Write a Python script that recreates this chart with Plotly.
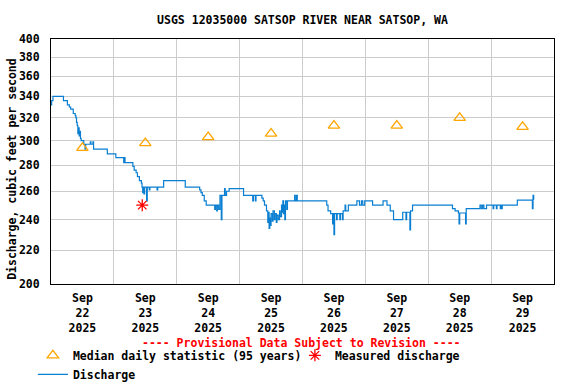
import math
import pandas as pd
import plotly.graph_objects as go

# ---------------- data ----------------
start = "2025-09-22 00:00"
# hours since start, discharge (cfs) - stepped 15-minute record
q_hours = [0.0, 0.25, 0.75, 4.75, 6.25, 7.0, 7.5, 8.5, 9.25, 9.5, 9.75,
           10.0, 10.25, 10.5, 10.75, 11.0, 11.25, 11.5, 12.5, 13.0, 13.25,
           15.0, 15.25, 16.0, 16.25, 21.5, 24.75, 27.75, 28.0, 28.25,
           31.25, 31.75, 32.5, 33.0, 33.75, 34.5, 34.75, 35.0, 35.25, 35.5,
           35.75, 36.5, 36.75, 37.5, 37.75, 40.5, 40.75, 43.0, 51.25,
           56.75, 57.25, 57.75, 58.5, 59.25, 62.5, 62.75, 63.25, 63.5, 64.0,
           64.5, 65.0, 65.25, 66.25, 66.5, 67.0, 68.0, 73.5, 77.0, 77.25,
           78.0, 78.25, 80.5, 81.0, 81.5, 82.25, 82.75, 83.0, 83.25, 83.5,
           83.75, 84.0, 84.5, 84.75, 85.25, 85.5, 86.0, 86.25, 86.75, 87.25,
           87.5, 88.0, 88.25, 88.5, 88.75, 89.0, 89.25, 89.5, 90.0, 90.25,
           91.0, 93.0, 93.25, 93.75, 94.0, 105.25, 105.75, 106.75, 107.5,
           107.75, 108.0, 108.25, 109.0, 109.25, 110.25, 110.5, 111.25,
           111.5, 112.25, 112.5, 113.5, 116.75, 117.75, 118.5, 119.0, 119.75,
           122.75, 126.75, 128.25, 129.5, 130.75, 134.25, 135.5, 135.75,
           137.0, 137.25, 138.0, 138.75, 153.25, 154.25, 155.5, 155.75, 156.0,
           158.25, 158.5, 163.75, 164.25, 164.75, 165.25, 166.25, 168.75,
           169.0, 170.0, 170.25, 171.5, 171.75, 172.0, 172.25, 178.0, 183.75,
           184.0, 184.25, 184.4]
q_cfs = [332, 336, 340, 336, 332, 330, 328, 324, 322, 320, 316,
         313, 306, 311, 304, 308, 302, 300, 297, 293, 297,
         299, 297, 299, 293, 289, 286, 282, 286, 282,
         279, 276, 274, 271, 268, 266, 263, 259, 263, 258,
         263, 253, 263, 261, 263, 261, 263, 268, 263,
         261, 259, 257, 253, 250, 247, 250, 246, 250, 247,
         257, 240, 257, 262, 257, 260, 262, 257, 253, 257,
         253, 257, 255, 253, 250, 246, 238, 245, 234, 241,
         236, 244, 239, 246, 240, 244, 238, 243, 240, 246,
         242, 250, 245, 253, 244, 250, 240, 253, 247, 253,
         253, 257, 253, 257, 253, 250, 246, 244, 237,
         244, 230, 244, 240, 244, 240, 244, 240,
         246, 250, 246, 250, 253, 250, 253, 250, 253,
         250, 253, 250, 246, 240, 245, 240, 245,
         233, 246, 250, 250, 247.5, 246, 244.5, 237, 244.5,
         237, 247.5, 250, 247.5, 250, 247.5, 250, 247.5,
         250, 247.5, 250, 247.5, 250, 247.5, 250, 253.5, 247.5,
         257, 254, 254]

median_dates = ["2025-09-22 12:00", "2025-09-23 12:00", "2025-09-24 12:00",
                "2025-09-25 12:00", "2025-09-26 12:00", "2025-09-27 12:00",
                "2025-09-28 12:00", "2025-09-29 12:00"]
median_cfs = [294, 298, 303, 306, 313, 313, 320, 312]

measured_dates = ["2025-09-23 10:50"]
measured_cfs = [250]

x_tick_vals = median_dates
x_tick_text = ["Sep<br>22<br>2025", "Sep<br>23<br>2025", "Sep<br>24<br>2025",
               "Sep<br>25<br>2025", "Sep<br>26<br>2025", "Sep<br>27<br>2025",
               "Sep<br>28<br>2025", "Sep<br>29<br>2025"]
day_lines = ["2025-09-23", "2025-09-24", "2025-09-25", "2025-09-26",
             "2025-09-27", "2025-09-28", "2025-09-29"]
y_tick_vals = [200, 220, 240, 260, 280, 300, 320, 340, 360, 380, 400]
x_range = ["2025-09-22 00:00", "2025-09-30 00:00"]
y_range = [200, 400]

# ---------------- figure ----------------
times = pd.Timestamp(start) + pd.to_timedelta(q_hours, unit="h")

FONT = dict(family="DejaVu Sans Mono", size=11.5, color="black", weight="bold")

fig = go.Figure()
fig.add_trace(go.Scatter(
    x=times, y=q_cfs, mode="lines", line_shape="hv",
    line=dict(color="#0a7fd2", width=1.2), name="Discharge", legendrank=3))
fig.add_trace(go.Scatter(
    x=pd.to_datetime(median_dates), y=median_cfs, mode="markers",
    marker=dict(symbol="triangle-up-open", size=10, color="#ffa500",
                line=dict(width=1.3, color="#ffa500")),
    name="Median daily statistic (95 years)", legendrank=1))
fig.add_trace(go.Scatter(
    x=pd.to_datetime(measured_dates), y=measured_cfs, mode="markers",
    marker=dict(symbol="asterisk-open", size=10, color="red",
                line=dict(width=1.3, color="red")),
    name="Measured discharge", legendrank=2))

fig.update_layout(
    width=576, height=384,
    margin=dict(l=51, r=22, t=39, b=100, autoexpand=False),
    paper_bgcolor="white", plot_bgcolor="white",
    font=FONT,
    title=dict(text="USGS 12035000 SATSOP RIVER NEAR SATSOP, WA",
               x=0.5, xref="paper", y=1 - 20 / 384, yref="container",
               yanchor="middle", xanchor="center", font=FONT),
    showlegend=True,
    legend=dict(orientation="h", x=-0.036, y=-0.232, xanchor="left",
                yanchor="top", font=FONT, bgcolor="rgba(0,0,0,0)",
                entrywidth=217, entrywidthmode="pixels",
                itemwidth=30, tracegroupgap=0),
    annotations=[
        dict(text="---- Provisional Data Subject to Revision ----",
             x=0.498, y=-0.241, xref="paper", yref="paper",
             showarrow=False, font=dict(family="DejaVu Sans Mono",
             size=11.5, color="red", weight="bold"),
             xanchor="center", yanchor="middle"),
        dict(text="Discharge, cubic feet per second",
             x=-0.0775, y=0.47, xref="paper", yref="paper",
             showarrow=False, textangle=-90, font=FONT,
             xanchor="center", yanchor="middle"),
    ],
)
fig.update_xaxes(
    type="date", range=x_range, automargin=False,
    tickmode="array", tickvals=x_tick_vals, ticktext=x_tick_text,
    showgrid=False, ticks="", ticklabelstandoff=3,
    showline=True, linecolor="black", linewidth=1, mirror=True,
    minor=dict(tickmode="array", tickvals=day_lines, showgrid=True,
               gridcolor="#cccccc", gridwidth=1, ticks=""),
    tickfont=FONT, zeroline=False)
fig.update_yaxes(
    type="log", range=[math.log10(y_range[0]), math.log10(y_range[1])],
    automargin=False,
    tickmode="array", tickvals=y_tick_vals,
    ticktext=[str(v) for v in y_tick_vals],
    showgrid=True, gridcolor="#cccccc", gridwidth=1, ticks="",
    ticklabelstandoff=8,
    showline=True, linecolor="black", linewidth=1, mirror=True,
    tickfont=FONT, zeroline=False)

# remove the browser's default 8px page margin so the 576x384 figure fills the window
fig.write_html("out.html", config={"displayModeBar": False},
               post_script="document.body.style.margin='0';")
